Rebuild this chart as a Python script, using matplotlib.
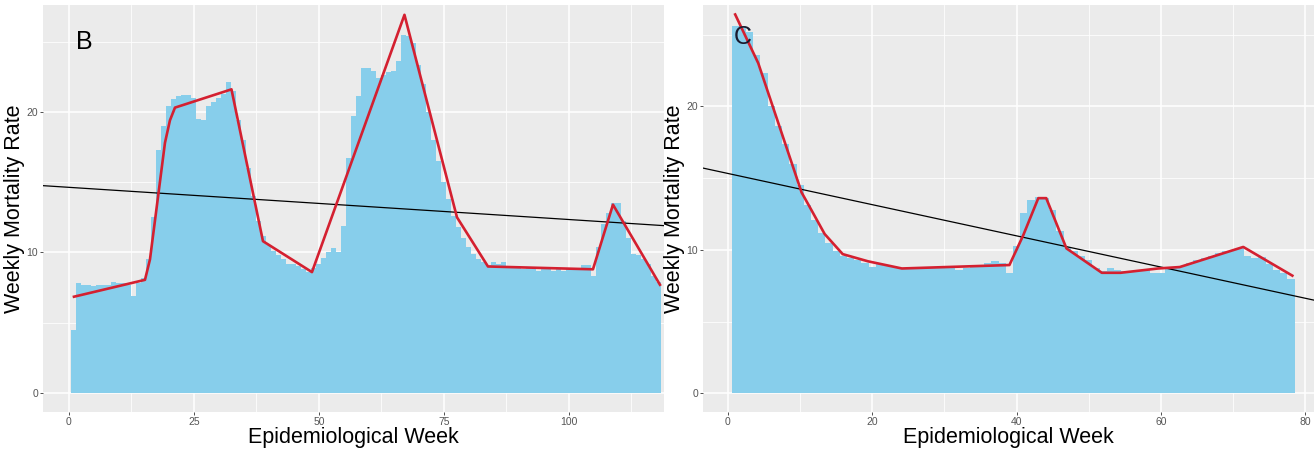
import matplotlib.pyplot as plt
import numpy as np

# panel B: weekly mortality rate, weeks 1..118
weeks_b = np.arange(1, 119)
rate_b = [4.5, 7.8, 7.7, 7.7, 7.6, 7.7, 7.7, 7.7, 7.9, 7.8,
          7.8, 7.7, 6.9, 7.8, 8.2, 9.5, 12.5, 17.3, 19.0, 20.4,
          20.9, 21.1, 21.2, 21.2, 21.0, 19.5, 19.4, 20.4, 20.7, 21.0,
          21.3, 22.1, 21.5, 19.4, 18.0, 16.0, 14.0, 12.2, 11.2, 10.5,
          10.1, 9.8, 9.5, 9.2, 9.2, 9.0, 8.8, 8.6, 8.9, 9.2,
          9.6, 10.0, 10.3, 10.0, 11.9, 16.7, 19.7, 21.1, 23.1, 23.1,
          22.9, 22.4, 22.6, 22.8, 22.9, 23.6, 25.5, 25.4, 24.9, 23.3,
          22.0, 20.0, 18.0, 16.5, 15.0, 13.8, 12.6, 11.8, 11.0, 10.4,
          9.9, 9.5, 9.3, 9.1, 9.3, 9.2, 9.3, 9.0, 9.0, 8.9,
          8.8, 8.9, 8.8, 8.7, 8.8, 8.8, 8.7, 8.8, 8.7, 8.8,
          8.8, 8.9, 9.1, 9.1, 8.3, 10.4, 12.0, 12.8, 13.5, 13.5,
          12.2, 11.0, 9.9, 9.8, 9.5, 9.2, 8.3, 7.9]
fit_b_week = [1.0, 15.2, 16.2, 17.9, 19.2, 20.2, 21.2, 32.5, 38.8, 48.6,
              67.1, 77.6, 83.8, 104.8, 108.8, 118.2]
fit_b_rate = [6.85, 8.05, 9.5, 14.2, 17.8, 19.4, 20.3, 21.6, 10.8, 8.6,
              26.9, 12.5, 9.0, 8.8, 13.4, 7.7]
trend_b_intercept = 14.63
trend_b_slope = -0.0229

# panel C: weekly mortality rate, weeks 1..78
weeks_c = np.arange(1, 79)
rate_c = [25.6, 25.6, 25.2, 23.6, 22.3, 20.0, 18.6, 17.4, 16.0, 14.5,
          13.1, 12.1, 11.2, 10.5, 9.9, 9.6, 9.4, 9.3, 9.1, 8.8,
          9.0, 8.9, 8.8, 8.7, 8.7, 8.8, 8.8, 8.7, 8.8, 8.7,
          8.7, 8.6, 8.7, 8.8, 8.9, 9.1, 9.2, 9.1, 8.4, 10.3,
          12.6, 13.5, 13.7, 13.6, 12.8, 11.3, 10.2, 9.9, 9.6, 9.3,
          8.7, 8.5, 8.7, 8.6, 8.5, 8.5, 8.6, 8.6, 8.4, 8.4,
          8.7, 8.8, 8.9, 9.1, 9.3, 9.4, 9.6, 9.8, 9.9, 10.0,
          10.1, 9.6, 9.4, 9.5, 9.0, 8.6, 8.4, 8.0]
fit_c_week = [1.0, 4.2, 10.2, 11.2, 13.4, 15.9, 19.4, 24.1, 39.0, 40.9,
              43.0, 44.1, 46.9, 51.8, 54.4, 59.6, 62.6, 71.4, 78.2]
fit_c_rate = [26.4, 23.0, 14.0, 13.1, 11.1, 9.7, 9.2, 8.7, 8.94, 11.0,
              13.6, 13.6, 10.1, 8.4, 8.4, 8.7, 8.8, 10.2, 8.2]
trend_c_intercept = 15.32
trend_c_slope = -0.1087

BAR_COLOR = '#87CEEB'
FIT_COLOR = '#D42030'
LABEL_FONT = 'Liberation Sans'
TICK_FONT = ['Liberation Sans Narrow', 'Liberation Sans']


def style_panel(ax, xlim, ylim, xmajor, xminor):
    ax.set_facecolor('#EBEBEB')
    for s in ax.spines.values():
        s.set_visible(False)
    ax.set_xlim(*xlim)
    ax.set_ylim(*ylim)
    ax.set_xticks(xmajor)
    ax.set_xticks(xminor, minor=True)
    ax.set_yticks([0, 10, 20])
    ax.set_yticks([5, 15, 25], minor=True)
    ax.grid(which='major', color='white', linewidth=1.1)
    ax.grid(which='minor', color='white', linewidth=0.55)
    ax.set_axisbelow(True)
    ax.tick_params(which='major', length=2.5, width=0.6, color='#333333',
                   labelsize=7.5, labelcolor='#555555', pad=1)
    ax.tick_params(which='minor', length=0)
    for lab in ax.get_xticklabels() + ax.get_yticklabels():
        lab.set_family(TICK_FONT)
    ax.set_xlabel('Epidemiological Week', fontsize=15.5, family=LABEL_FONT, labelpad=0)
    ax.set_ylabel('Weekly Mortality Rate', fontsize=15.5, family=LABEL_FONT)
    ax.yaxis.set_label_coords(-0.029, 0.5)


fig = plt.figure(figsize=(13.14, 4.66), dpi=100)
ax_b = fig.add_axes([0.0327, 0.1159, 0.4726, 0.8734])
ax_c = fig.add_axes([0.535, 0.1159, 0.465, 0.8734])

# B
style_panel(ax_b, (-5.2, 119), (-1.35, 27.6), [0, 25, 50, 75, 100],
            [12.5, 37.5, 62.5, 87.5, 112.5])
ax_b.bar(weeks_b, rate_b, width=1.0, color=BAR_COLOR, linewidth=0)
ax_b.axline((0, trend_b_intercept), slope=trend_b_slope, color='black', linewidth=0.9)
ax_b.plot(fit_b_week, fit_b_rate, color=FIT_COLOR, linewidth=1.9)
ax_b.text(1.5, 25, 'B', fontsize=18, family=LABEL_FONT, va='center')

# C
style_panel(ax_c, (-3.46, 81.2), (-1.3, 27.06), [0, 20, 40, 60, 80],
            [10, 30, 50, 70])
ax_c.bar(weeks_c, rate_c, width=1.0, color=BAR_COLOR, linewidth=0)
ax_c.axline((0, trend_c_intercept), slope=trend_c_slope, color='black', linewidth=0.9)
ax_c.plot(fit_c_week, fit_c_rate, color=FIT_COLOR, linewidth=1.9)
ax_c.text(0.8, 24.8, 'C', fontsize=18, family=LABEL_FONT, va='center', color='#1a1a2e')

fig.savefig('out.png', dpi=100)
